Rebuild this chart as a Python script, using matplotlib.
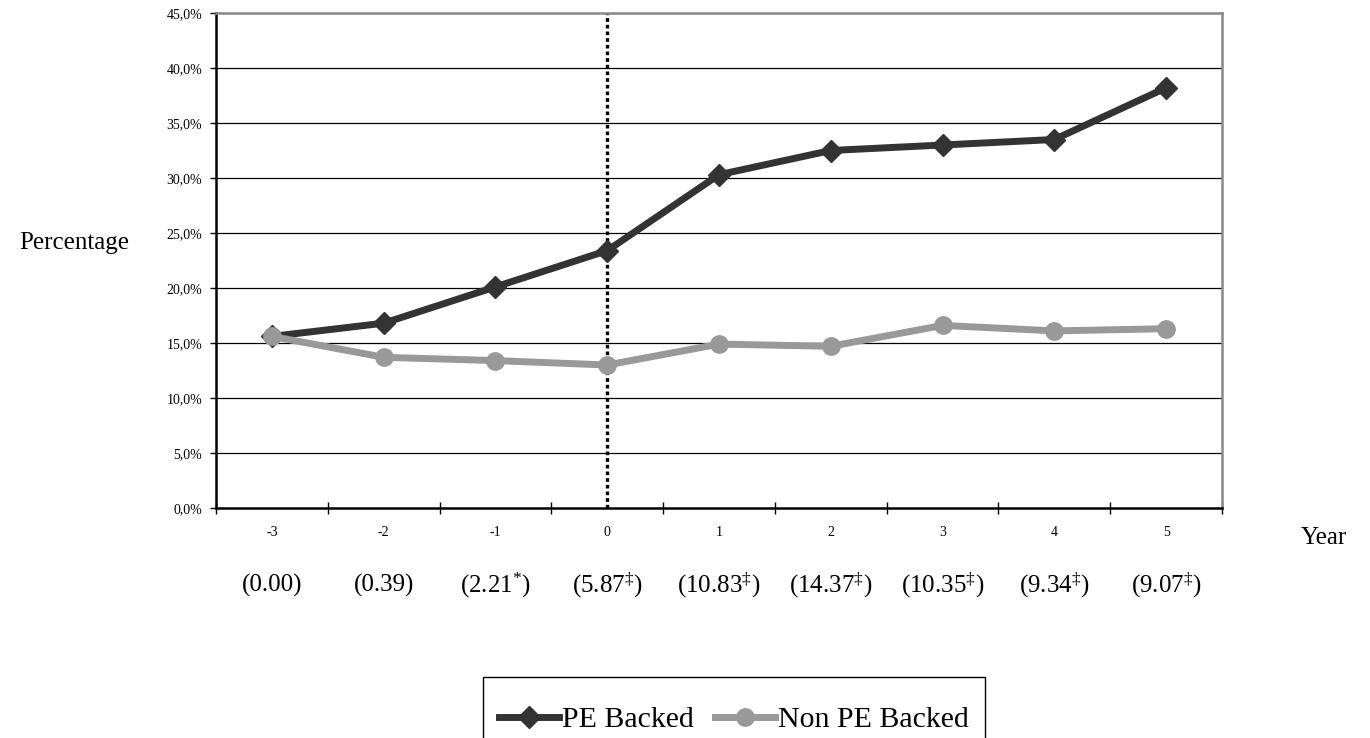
import matplotlib
matplotlib.use("Agg")
import matplotlib.pyplot as plt
from matplotlib.lines import Line2D
from matplotlib.patches import Rectangle
from matplotlib.ticker import FixedLocator, FuncFormatter

plt.rcParams['font.family'] = ['Liberation Serif', 'DejaVu Serif']
plt.rcParams['mathtext.fontset'] = 'custom'
plt.rcParams['mathtext.rm'] = 'Liberation Serif'
plt.rcParams['mathtext.it'] = 'Liberation Serif:italic'

years = [-3, -2, -1, 0, 1, 2, 3, 4, 5]
pe_backed = [15.6, 16.8, 20.1, 23.4, 30.3, 32.5, 33.0, 33.5, 38.2]
non_pe_backed = [15.6, 13.7, 13.4, 13.0, 14.9, 14.7, 16.6, 16.1, 16.3]
test_stats = ["0.00", "0.39", "2.21", "5.87", "10.83", "14.37", "10.35", "9.34", "9.07"]
test_marks = ["", "", "*", "‡", "‡", "‡", "‡", "‡", "‡"]
y_ticks = [0, 5, 10, 15, 20, 25, 30, 35, 40, 45]

W, H = 1370, 738
fig = plt.figure(figsize=(W / 100, H / 100), dpi=100)
ax = fig.add_axes([216 / W, 1 - 508 / H, (1222 - 216) / W, (508 - 13) / H])

pe_color = '#333333'
non_color = '#999999'

ax.set_xlim(-3.5, 5.5)
ax.set_ylim(0, 45)

for y in y_ticks[1:-1]:
    ax.axhline(y, color='black', lw=0.9, zorder=1)

ax.plot([0, 0], [0, 45], color='black', lw=2.4, linestyle=(0, (1.1, 0.9)), zorder=2)

ax.plot(years, pe_backed, color=pe_color, lw=5, marker='D', markersize=11,
        zorder=3, label='PE Backed')
ax.plot(years, non_pe_backed, color=non_color, lw=5, marker='o', markersize=12.5,
        zorder=4, label='Non PE Backed')

for side in ['top', 'right']:
    ax.spines[side].set_color('#888888')
    ax.spines[side].set_linewidth(1.8)
for side in ['left', 'bottom']:
    ax.spines[side].set_color('black')
    ax.spines[side].set_linewidth(1.8)

ax.yaxis.set_major_locator(FixedLocator(y_ticks))
ax.yaxis.set_major_formatter(FuncFormatter(lambda v, p: f"{v:.1f}%".replace('.', ',')))
ax.tick_params(axis='y', direction='out', length=4, width=1, labelsize=10, pad=6)

ax.set_xticks(years)
ax.set_xticklabels([str(y) for y in years])
ax.set_xticks([y + 0.5 for y in years[:-1]] + [-3.5, 5.5], minor=True)
ax.tick_params(axis='x', which='major', length=0, labelsize=10, pad=13)
ax.tick_params(axis='x', which='minor', direction='inout', length=8, width=1)

for x, s, m in zip(years, test_stats, test_marks):
    if m == "*":
        txt = "(" + s + r"$^{*}$)"
    elif m:
        txt = "(" + s + r"$^{\ddag}$)"
    else:
        txt = "(" + s + ")"
    ax.text(x, -0.156, txt, transform=ax.get_xaxis_transform(), ha='center',
            va='center', fontsize=18, clip_on=False)

fig.text(74 / W, 1 - 243 / H, 'Percentage', ha='center', va='center', fontsize=18)
fig.text(1324 / W, 1 - 538 / H, 'Year', ha='center', va='center', fontsize=18)

rect = Rectangle((483 / W, 1 - 760 / H), (985 - 483) / W, (760 - 677) / H,
                 transform=fig.transFigure, facecolor='white', edgecolor='black',
                 lw=1.0, clip_on=False)
fig.patches.append(rect)

handles = [Line2D([], [], color=pe_color, lw=5, marker='D', markersize=11),
           Line2D([], [], color=non_color, lw=5, marker='o', markersize=12.5)]
fig.legend(handles, ['PE Backed', 'Non PE Backed'], loc='center',
           bbox_to_anchor=(734 / W, 1 - 720 / H), ncol=2, frameon=False,
           fontsize=21.5, handlelength=2.0, handletextpad=0.12, columnspacing=0.7,
           borderpad=0.2)

fig.savefig('out.png', dpi=100)
